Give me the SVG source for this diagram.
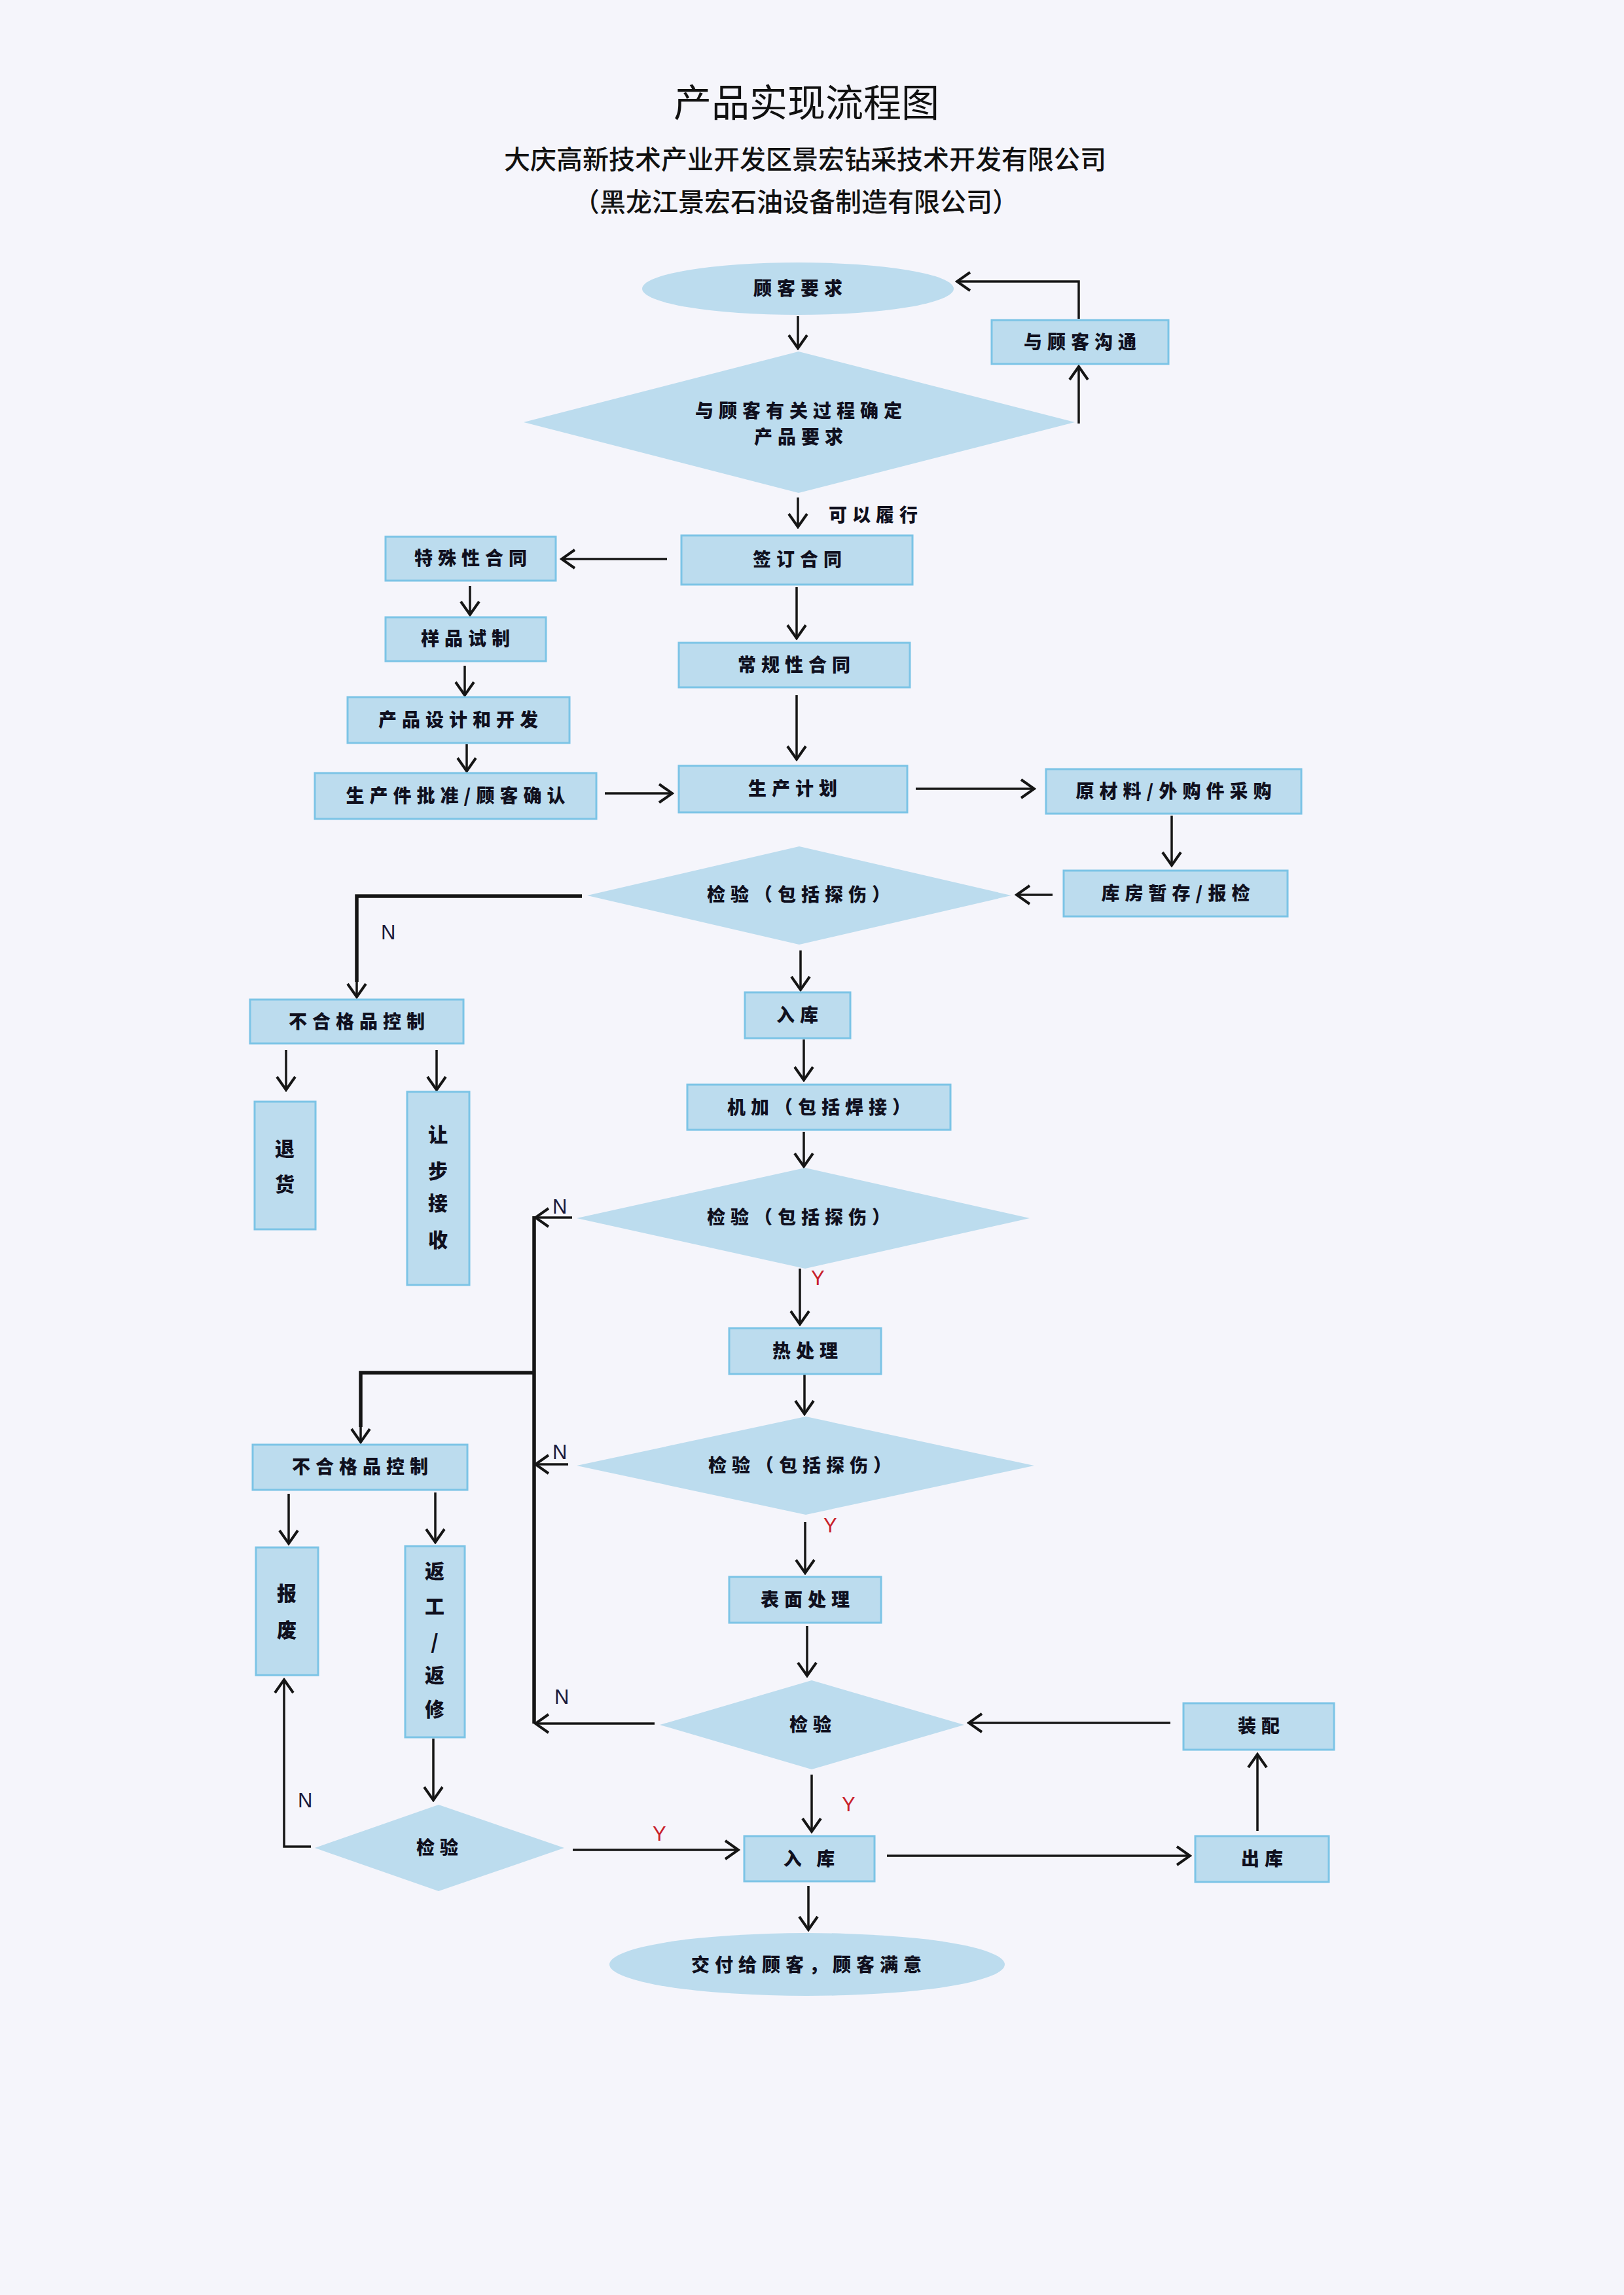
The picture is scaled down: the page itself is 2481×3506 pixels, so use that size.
<svg xmlns="http://www.w3.org/2000/svg" width="2481" height="3506" viewBox="0 0 2481 3506">
<defs>
<style>
.bg{fill:#f5f5fb}
.nd{fill:#bcdcee;stroke:#7cc4e6;stroke-width:3}
.dm{fill:#bcdcee;stroke:none}
.t{font-family:"Noto Sans CJK SC","Noto Sans",sans-serif;font-weight:900;font-size:28px;letter-spacing:8px;fill:#10101e;text-anchor:middle}
.tv{font-family:"Noto Sans CJK SC","Noto Sans",sans-serif;font-weight:900;font-size:30px;fill:#10101e;text-anchor:middle}
.title{font-family:"Noto Sans CJK SC",sans-serif;font-size:58px;fill:#111;text-anchor:middle}
.sub{font-family:"Noto Sans CJK SC",sans-serif;font-weight:500;font-size:40px;fill:#111;text-anchor:middle}
.c{fill:none;stroke:#151515;stroke-width:3.5;marker-end:url(#ah)}
.ck{fill:none;stroke:#151515;stroke-width:5.5}
.n{font-family:"Liberation Sans",Arial,sans-serif;font-size:31px;fill:#1a1a3c}
.y{font-family:"Liberation Sans",Arial,sans-serif;font-size:31px;fill:#c8202a}
</style>
<marker id="ah" viewBox="0 0 26 34" refX="23" refY="17" markerWidth="26" markerHeight="34" orient="auto" markerUnits="userSpaceOnUse">
<path d="M3,3 L23,17 L3,31" fill="none" stroke="#151515" stroke-width="4"/>
</marker>
</defs>
<rect class="bg" x="0" y="0" width="2481" height="3506"/>

<g id="header">
<text class="title" x="1232" y="178">产品实现流程图</text>
<text class="sub" x="1230" y="258">大庆高新技术产业开发区景宏钻采技术开发有限公司</text>
<text class="sub" x="1216" y="323">（黑龙江景宏石油设备制造有限公司）</text>
</g>

<g id="connectors">
<path class="c" d="M1219,483 V532"/>
<path class="c" d="M1648,647 V560"/>
<path class="c" d="M1648,487 V430 H1462"/>
<path class="c" d="M1219,760 V805"/>
<path class="c" d="M1019,854 H858"/>
<path class="c" d="M718,895 V939"/>
<path class="c" d="M710,1017 V1062"/>
<path class="c" d="M713,1137 V1178"/>
<path class="c" d="M924,1212 H1027"/>
<path class="c" d="M1217,897 V975"/>
<path class="c" d="M1217,1062 V1160"/>
<path class="c" d="M1399,1205 H1580"/>
<path class="c" d="M1790,1246 V1322"/>
<path class="c" d="M1608,1367 H1553"/>
<path class="ck" d="M889,1369 H545 V1500"/>
<path class="c" d="M545,1495 V1523"/>
<path class="c" d="M437,1604 V1665"/>
<path class="c" d="M667,1604 V1665"/>
<path class="c" d="M1223,1452 V1512"/>
<path class="c" d="M1228,1588 V1650"/>
<path class="c" d="M1228,1729 V1782"/>
<path class="c" d="M874,1860 H818"/>
<path class="c" d="M1222,1938 V2023"/>
<path class="ck" d="M816,1858 V2633"/>
<path class="ck" d="M816,2097 H551 V2180"/>
<path class="c" d="M551,2170 V2203"/>
<path class="c" d="M1229,2100 V2160"/>
<path class="c" d="M868,2237 H818"/>
<path class="c" d="M1230,2325 V2403"/>
<path class="c" d="M441,2282 V2358"/>
<path class="c" d="M665,2280 V2356"/>
<path class="c" d="M1233,2484 V2560"/>
<path class="c" d="M1000,2633 H818"/>
<path class="c" d="M1788,2632 H1480"/>
<path class="c" d="M1240,2711 V2798"/>
<path class="c" d="M1921,2797 V2680"/>
<path class="c" d="M1355,2835 H1818"/>
<path class="c" d="M662,2656 V2750"/>
<path class="c" d="M875,2826 H1128"/>
<path class="c" d="M475,2821 H434 V2566"/>
<path class="c" d="M1235,2881 V2948"/>
<text class="t" x="1266" y="797" style="text-anchor:start">可以履行</text>
<text class="n" x="582" y="1435">N</text>
<text class="n" x="844" y="1854">N</text>
<text class="y" x="1239" y="1963">Y</text>
<text class="n" x="844" y="2229">N</text>
<text class="y" x="1258" y="2341">Y</text>
<text class="n" x="847" y="2603">N</text>
<text class="y" x="1286" y="2767">Y</text>
<text class="y" x="997" y="2812">Y</text>
<text class="n" x="455" y="2761">N</text>
</g>

<g id="n_req"><ellipse class="dm" cx="1219" cy="441" rx="238" ry="40"/><text class="t" x="1223" y="451">顾客要求</text></g>
<g id="n_comm"><rect class="nd" x="1515" y="489" width="270" height="67"/><text class="t" x="1654" y="533">与顾客沟通</text></g>
<g id="n_d1"><polygon class="dm" points="1220,537 1642,645 1220,753 800,645"/><text class="t" x="1224" y="638">与顾客有关过程确定</text><text class="t" x="1224" y="678">产品要求</text></g>
<g id="n_sign"><rect class="nd" x="1041" y="818" width="353" height="75"/><text class="t" x="1222" y="865">签订合同</text></g>
<g id="n_special"><rect class="nd" x="589" y="820" width="260" height="67"/><text class="t" x="723" y="863">特殊性合同</text></g>
<g id="n_sample"><rect class="nd" x="589" y="943" width="245" height="67"/><text class="t" x="715" y="986">样品试制</text></g>
<g id="n_design"><rect class="nd" x="531" y="1065" width="339" height="70"/><text class="t" x="704" y="1110">产品设计和开发</text></g>
<g id="n_ppap"><rect class="nd" x="481" y="1181" width="430" height="70"/><text class="t" x="700" y="1226">生产件批准/顾客确认</text></g>
<g id="n_regular"><rect class="nd" x="1037" y="982" width="353" height="68"/><text class="t" x="1217" y="1026">常规性合同</text></g>
<g id="n_plan"><rect class="nd" x="1037" y="1170" width="349" height="71"/><text class="t" x="1215" y="1215">生产计划</text></g>
<g id="n_purchase"><rect class="nd" x="1598" y="1175" width="390" height="68"/><text class="t" x="1797" y="1219">原材料/外购件采购</text></g>
<g id="n_store"><rect class="nd" x="1625" y="1330" width="342" height="70"/><text class="t" x="1800" y="1375">库房暂存/报检</text></g>
<g id="n_d2"><polygon class="dm" points="1221,1293 1545,1368 1221,1443 897,1368"/><text class="t" x="1224" y="1377">检验（包括探伤）</text></g>
<g id="n_ncr1"><rect class="nd" x="382" y="1527" width="326" height="67"/><text class="t" x="549" y="1571">不合格品控制</text></g>
<g id="n_return"><rect class="nd" x="389" y="1683" width="93" height="195"/><text class="tv"><tspan x="435" y="1766">退</tspan><tspan x="435" y="1820">货</tspan></text></g>
<g id="n_concession"><rect class="nd" x="622" y="1668" width="95" height="295"/><text class="tv"><tspan x="669" y="1744">让</tspan><tspan x="669" y="1800">步</tspan><tspan x="669" y="1849">接</tspan><tspan x="669" y="1905">收</tspan></text></g>
<g id="n_in1"><rect class="nd" x="1138" y="1516" width="161" height="70"/><text class="t" x="1222" y="1561">入库</text></g>
<g id="n_mach"><rect class="nd" x="1050" y="1657" width="402" height="69"/><text class="t" x="1255" y="1702">机加（包括焊接）</text></g>
<g id="n_d3"><polygon class="dm" points="1230,1784 1573,1861 1230,1938 881,1861"/><text class="t" x="1224" y="1870">检验（包括探伤）</text></g>
<g id="n_heat"><rect class="nd" x="1114" y="2029" width="232" height="70"/><text class="t" x="1234" y="2074">热处理</text></g>
<g id="n_d4"><polygon class="dm" points="1231,2164 1580,2239 1231,2314 881,2239"/><text class="t" x="1226" y="2249">检验（包括探伤）</text></g>
<g id="n_surface"><rect class="nd" x="1114" y="2409" width="232" height="70"/><text class="t" x="1234" y="2454">表面处理</text></g>
<g id="n_ncr2"><rect class="nd" x="386" y="2207" width="328" height="69"/><text class="t" x="554" y="2251">不合格品控制</text></g>
<g id="n_scrap"><rect class="nd" x="391" y="2364" width="95" height="195"/><text class="tv"><tspan x="438" y="2445">报</tspan><tspan x="438" y="2501">废</tspan></text></g>
<g id="n_rework"><rect class="nd" x="619" y="2362" width="91" height="292"/><text class="tv"><tspan x="664" y="2411">返</tspan><tspan x="664" y="2465">工</tspan><tspan x="664" y="2519">/</tspan><tspan x="664" y="2570">返</tspan><tspan x="664" y="2622">修</tspan></text></g>
<g id="n_d5"><polygon class="dm" points="1240,2567 1473,2635 1240,2703 1008,2635"/><text class="t" x="1242" y="2645">检验</text></g>
<g id="n_assembly"><rect class="nd" x="1808" y="2602" width="230" height="71"/><text class="t" x="1927" y="2647">装配</text></g>
<g id="n_out"><rect class="nd" x="1826" y="2805" width="204" height="70"/><text class="t" x="1932" y="2850">出库</text></g>
<g id="n_in2"><rect class="nd" x="1137" y="2805" width="199" height="69"/><text class="t" x="1240" y="2850">入 库</text></g>
<g id="n_d6"><polygon class="dm" points="670,2757 862,2823 670,2889 481,2823"/><text class="t" x="672" y="2833">检验</text></g>
<g id="n_deliver"><ellipse class="dm" cx="1233" cy="3001" rx="302" ry="48"/><text class="t" x="1236" y="3012">交付给顾客，顾客满意</text></g>
</svg>
